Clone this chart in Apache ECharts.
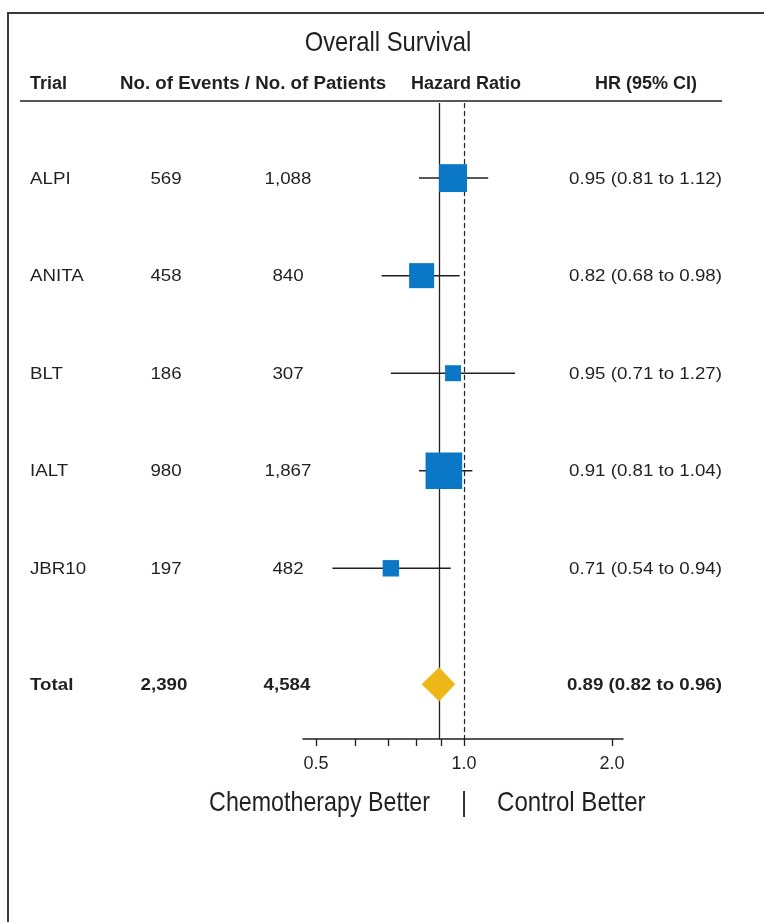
<!DOCTYPE html>
<html>
<head>
<meta charset="utf-8">
<script src="https://cdn.jsdelivr.net/npm/echarts@6/dist/echarts.min.js"></script>
<style>
  html, body { margin: 0; padding: 0; background: #fff; }
  #chart { width: 764px; height: 922px; }
</style>
</head>
<body>
<div id="chart"></div>
<script>
// trial data
const trials = ['ALPI', 'ANITA', 'BLT', 'IALT', 'JBR10']
const events = [569, 458, 186, 980, 197]
const patients = [1088, 840, 307, 1867, 482]
const hr = [0.95, 0.82, 0.95, 0.91, 0.71]
const ciLow = [0.81, 0.68, 0.71, 0.81, 0.54]
const ciHigh = [1.12, 0.98, 1.27, 1.04, 0.94]

// pooled result
const totalEvents = 2390
const totalPatients = 4584
const totalHr = 0.89
const totalLow = 0.82
const totalHigh = 0.96

// axis ticks
const xLabels = [0.5, 1.0, 2.0]
const xTicks = [0.5, 0.6, 0.7, 0.8, 0.9, 1.0, 2.0]

const INK = '#231f20'
const BLUE = '#0a78c6'
const GOLD = '#edb817'
const SANS = "'Liberation Sans', Arial, Helvetica, sans-serif"

// row positions on the hidden y axis (total row sits a bit lower)
const rowY = trials.map((t, i) => i + 1)
const totalY = trials.length + 1.19

const fmt = n => n.toLocaleString('en-US')
const ciText = (h, l, u) => `${h.toFixed(2)} (${l.toFixed(2)} to ${u.toFixed(2)})`

const chart = echarts.init(document.getElementById('chart'))

const option = {
  animation: false,
  backgroundColor: '#fff',
  grid: { left: 303, right: 141, top: 103, bottom: 183 },
  xAxis: {
    type: 'log',
    logBase: 2,
    min: 0.4704,
    max: 2.106,
    axisLine: { lineStyle: { color: INK, width: 1.5 } },
    axisTick: { show: true, length: 7, lineStyle: { color: INK, width: 1.3 }, customValues: xTicks },
    axisLabel: {
      customValues: xLabels,
      formatter: v => Number(v).toFixed(1),
      color: INK,
      fontFamily: SANS,
      fontSize: 18,
      margin: 16
    },
    splitLine: { show: false },
    minorTick: { show: false }
  },
  yAxis: {
    type: 'value',
    inverse: true,
    min: 0.23,
    max: 6.75,
    show: false
  },
  series: [
    {
      type: 'custom',
      name: 'ci',
      z: 2,
      encode: { x: [0, 1], y: 2 },
      data: trials.map((t, i) => [ciLow[i], ciHigh[i], rowY[i]]),
      renderItem: (params, api) => {
        const a = api.coord([api.value(0), api.value(2)])
        const b = api.coord([api.value(1), api.value(2)])
        return {
          type: 'line',
          shape: { x1: a[0], y1: a[1], x2: b[0], y2: b[1] },
          style: { stroke: INK, lineWidth: 1.5 }
        }
      },
      markLine: {
        silent: true,
        symbol: 'none',
        label: { show: false },
        z: 1,
        data: [
          { xAxis: totalHr, lineStyle: { color: INK, width: 1.3, type: 'solid' } },
          { xAxis: 1, lineStyle: { color: INK, width: 1.2, type: [5, 3] } }
        ]
      }
    },
    {
      type: 'scatter',
      name: 'hr',
      z: 3,
      symbol: 'rect',
      symbolSize: v => 1.17 * Math.sqrt(v[2]),
      itemStyle: { color: BLUE, opacity: 1 },
      data: trials.map((t, i) => [hr[i], rowY[i], events[i]])
    },
    {
      type: 'custom',
      name: 'total',
      z: 3,
      encode: { x: [0, 1, 2], y: 3 },
      data: [[totalLow, totalHr, totalHigh, totalY]],
      renderItem: (params, api) => {
        const l = api.coord([api.value(0), api.value(3)])
        const c = api.coord([api.value(1), api.value(3)])
        const r = api.coord([api.value(2), api.value(3)])
        const h = 17
        return {
          type: 'polygon',
          shape: { points: [[l[0], l[1]], [c[0], c[1] - h], [r[0], r[1]], [c[0], c[1] + h]] },
          style: { fill: GOLD }
        }
      }
    }
  ]
}

chart.setOption(option)

// text columns, placed on the same rows as the marks
const py = v => chart.convertToPixel({ yAxisIndex: 0 }, v) + 1
// sx stretches / squeezes the glyphs to get close to the original typefaces
const txt = (x, y, text, font, align, sx) => ({
  type: 'text',
  x, y,
  scaleX: sx || 1,
  silent: true,
  style: { text, font, fill: INK, textAlign: align || 'left', textVerticalAlign: 'middle' }
})

const ROW_SX = 1.17
const rowFont = `16px ${SANS}`
const boldRow = `bold 16px ${SANS}`
const headFont = `bold 18px ${SANS}`
const bigFont = `28px ${SANS}`
const BIG_SX = 0.83

const graphics = [
  // frame
  { type: 'polyline', silent: true, shape: { points: [[8, 922], [8, 13], [764, 13]] }, style: { stroke: '#3a3a3a', lineWidth: 2, fill: null } },
  // header rule
  { type: 'line', silent: true, shape: { x1: 20, y1: 101, x2: 722, y2: 101 }, style: { stroke: INK, lineWidth: 1.5 } },
  txt(388, 43, 'Overall Survival', bigFont, 'center', 0.85),
  txt(30, 84, 'Trial', headFont),
  txt(120, 84, 'No. of Events / No. of Patients', headFont, 'left', 1.04),
  txt(411, 84, 'Hazard Ratio', headFont),
  txt(697, 84, 'HR (95% CI)', headFont, 'right'),
  txt(430, 803, 'Chemotherapy Better', bigFont, 'right', BIG_SX),
  txt(464, 803, '|', bigFont, 'center', BIG_SX),
  txt(497, 803, 'Control Better', bigFont, 'left', 0.86)
]

trials.forEach((t, i) => {
  const y = py(rowY[i])
  graphics.push(txt(30, y, t, rowFont, 'left', ROW_SX))
  graphics.push(txt(166, y, fmt(events[i]), rowFont, 'center', ROW_SX))
  graphics.push(txt(288, y, fmt(patients[i]), rowFont, 'center', ROW_SX))
  graphics.push(txt(722, y, ciText(hr[i], ciLow[i], ciHigh[i]), rowFont, 'right', ROW_SX))
})

const ty = py(totalY)
graphics.push(txt(30, ty, 'Total', boldRow, 'left', ROW_SX))
graphics.push(txt(164, ty, fmt(totalEvents), boldRow, 'center', ROW_SX))
graphics.push(txt(287, ty, fmt(totalPatients), boldRow, 'center', ROW_SX))
graphics.push(txt(722, ty, ciText(totalHr, totalLow, totalHigh), boldRow, 'right', ROW_SX))

chart.setOption({ graphic: { elements: graphics } })

window.addEventListener('resize', () => chart.resize())
</script>
</body>
</html>
